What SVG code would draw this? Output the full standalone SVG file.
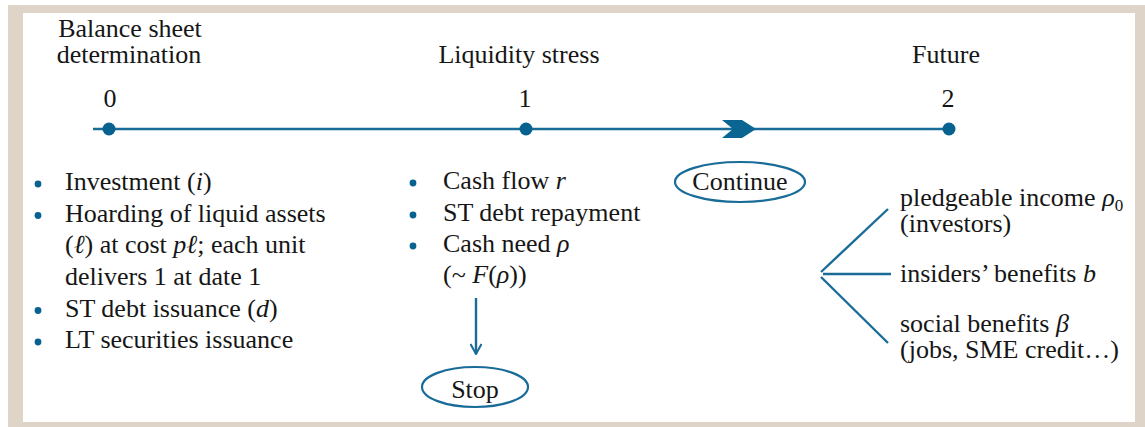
<svg xmlns="http://www.w3.org/2000/svg" width="1145" height="427" viewBox="0 0 1145 427">
<defs>
<style>
text{font-family:"Liberation Serif","DejaVu Serif",serif;font-size:26px;fill:#161616}
.c{text-anchor:middle}
.i{font-style:italic}
.ln{stroke:#1a6c98;stroke-width:2.4;fill:none}
.dot{fill:#07628f}
.ell{stroke:#1a6c98;stroke-width:2.2;fill:none}
</style>
<marker id="ah" viewBox="0 0 12 12" refX="11" refY="6" markerWidth="12" markerHeight="12" markerUnits="userSpaceOnUse" orient="auto">
<path d="M1,0.5 L11,6 L1,11.5" fill="none" stroke="#1a6c98" stroke-width="2"/>
</marker>
</defs>
<rect x="8" y="5" width="1137" height="422" fill="#ded5c8"/>
<rect x="23" y="13" width="1112" height="409" fill="#ffffff"/>

<g id="connectors">
<line class="ln" x1="93" y1="129" x2="949" y2="129"/>
<polygon points="722,120 742,120 756,129 742,138 722,138 733,129" fill="#0b6592"/>
<line class="ln" x1="476" y1="298" x2="476" y2="354" marker-end="url(#ah)"/>
<line class="ln" x1="821" y1="272" x2="888" y2="209"/>
<line class="ln" x1="823" y1="274" x2="891" y2="274"/>
<line class="ln" x1="821" y1="277" x2="888" y2="343"/>
</g>

<g id="date0">
<text class="c" x="130" y="37">Balance sheet<tspan x="129" y="63">determination</tspan></text>
<text class="c" x="110" y="107">0</text>
<circle class="dot" cx="109" cy="129" r="6.5"/>
</g>
<g id="date1">
<text class="c" x="519" y="63">Liquidity stress</text>
<text class="c" x="525" y="107">1</text>
<circle class="dot" cx="526" cy="129" r="6.5"/>
</g>
<g id="date2">
<text class="c" x="946" y="63">Future</text>
<text class="c" x="948" y="107">2</text>
<circle class="dot" cx="949" cy="129" r="6.5"/>
</g>

<g id="list0">
<circle class="dot" cx="38" cy="184" r="3.4"/>
<circle class="dot" cx="38" cy="215.5" r="3.4"/>
<circle class="dot" cx="38" cy="310.5" r="3.4"/>
<circle class="dot" cx="38" cy="342" r="3.4"/>
<text x="65" y="190">Investment (<tspan class="i">i</tspan>)<tspan x="65" y="221.5">Hoarding of liquid assets</tspan><tspan x="65" y="253">(<tspan class="i">ℓ</tspan>) at cost <tspan class="i">pℓ</tspan>; each unit</tspan><tspan x="65" y="284.5">delivers 1 at date 1</tspan><tspan x="65" y="316.5">ST debt issuance (<tspan class="i">d</tspan>)</tspan><tspan x="65" y="348">LT securities issuance</tspan></text>
</g>

<g id="list1">
<circle class="dot" cx="413" cy="183" r="3.4"/>
<circle class="dot" cx="413" cy="215" r="3.4"/>
<circle class="dot" cx="413" cy="246" r="3.4"/>
<text x="443" y="189">Cash flow <tspan class="i">r</tspan><tspan x="443" y="221">ST debt repayment</tspan><tspan x="443" y="252">Cash need <tspan class="i">ρ</tspan></tspan><tspan x="443" y="283">(~ <tspan class="i">F</tspan>(<tspan class="i">ρ</tspan>))</tspan></text>
</g>

<g id="continue">
<ellipse class="ell" cx="740" cy="182" rx="65" ry="20"/>
<text class="c" x="740" y="190">Continue</text>
</g>

<g id="stop">
<ellipse class="ell" cx="475" cy="387" rx="53" ry="20"/>
<text class="c" x="475" y="398">Stop</text>
</g>

<g id="pledgeable">
<text x="900" y="206">pledgeable income <tspan class="i">ρ</tspan><tspan font-size="17" baseline-shift="-5">0</tspan><tspan x="900" y="232">(investors)</tspan></text>
</g>
<g id="insiders">
<text x="900" y="282">insiders’ benefits <tspan class="i">b</tspan></text>
</g>
<g id="social">
<text x="900" y="332">social benefits <tspan class="i">β</tspan><tspan x="900" y="358">(jobs, SME credit…)</tspan></text>
</g>
</svg>
